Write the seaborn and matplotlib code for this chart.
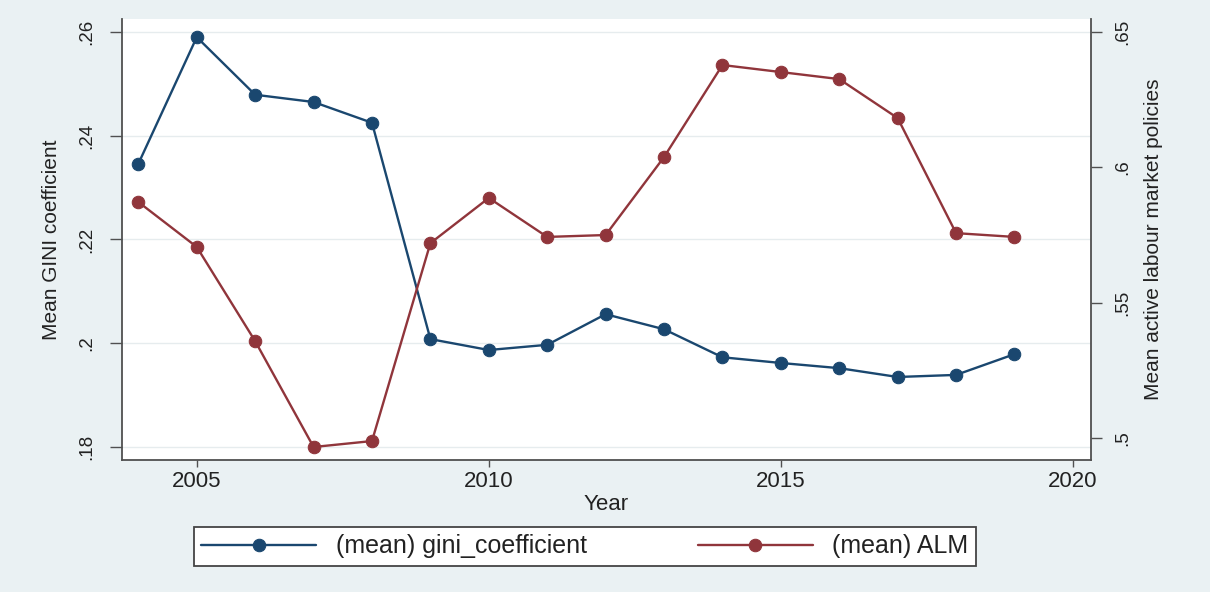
import matplotlib
matplotlib.use("Agg")
import matplotlib.pyplot as plt
import seaborn as sns
import pandas as pd

years = [2004, 2005, 2006, 2007, 2008, 2009, 2010, 2011, 2012, 2013, 2014, 2015, 2016, 2017, 2018, 2019]
gini = [0.2346, 0.2590, 0.2479, 0.2465, 0.2425, 0.2008, 0.1987, 0.1997, 0.2056, 0.2027,
        0.1973, 0.1962, 0.1952, 0.1935, 0.1939, 0.1979]
alm = [0.5872, 0.5706, 0.5358, 0.4967, 0.4989, 0.5720, 0.5887, 0.5743, 0.5750, 0.6038,
       0.6378, 0.6352, 0.6326, 0.6182, 0.5757, 0.5743]

x_ticks = [2005, 2010, 2015, 2020]
left_ticks = [0.18, 0.20, 0.22, 0.24, 0.26]
left_labels = [".18", ".2", ".22", ".24", ".26"]
right_ticks = [0.50, 0.55, 0.60, 0.65]
right_labels = [".5", ".55", ".6", ".65"]

df = pd.DataFrame({"Year": years, "gini": gini, "alm": alm})

sns.set_theme(style="white")
plt.rcParams["font.family"] = ["Liberation Sans", "DejaVu Sans"]

navy = "#1a476f"
maroon = "#90353b"
bg = "#eaf1f3"
spine_c = "#505050"
txt = "#222222"

fig = plt.figure(figsize=(12.10, 5.92), dpi=100, facecolor=bg)
ax = fig.add_axes([122/1210, 1-460/592, (1091-122)/1210, (460-19)/592])
ax.set_facecolor("white")
ax2 = ax.twinx()

sns.lineplot(data=df, x="Year", y="gini", ax=ax, color=navy, marker="o",
             markersize=9, linewidth=1.7, markeredgecolor=navy,
             label="(mean) gini_coefficient", legend=False)
sns.lineplot(data=df, x="Year", y="alm", ax=ax2, color=maroon, marker="o",
             markersize=9, linewidth=1.7, markeredgecolor=maroon,
             label="(mean) ALM", legend=False)

ax.set_xlim(2003.72, 2020.31)
ax.set_ylim(0.1775, 0.2625)
ax2.set_ylim(0.4919, 0.6548)

ax.set_xticks(x_ticks)
ax.set_xticklabels([str(t) for t in x_ticks], fontsize=16, color=txt)
ax.set_yticks(left_ticks)
ax.set_yticklabels(left_labels, rotation=90, va="center", fontsize=13.5, color=txt)
ax2.set_yticks(right_ticks)
ax2.set_yticklabels(right_labels, rotation=90, va="center", fontsize=13.5, color=txt)

ax.grid(axis="y", color="#e6ecee", linewidth=1.0)
ax.set_axisbelow(True)

for a in (ax, ax2):
    a.spines["top"].set_visible(False)
    for s in ("left", "right", "bottom"):
        a.spines[s].set_color(spine_c)
        a.spines[s].set_linewidth(1.3)
ax.spines["right"].set_visible(False)
ax2.spines["left"].set_visible(False)
ax2.spines["bottom"].set_visible(False)

ax.tick_params(axis="x", direction="out", length=5, width=1, color=spine_c, bottom=True, pad=3)
ax.tick_params(axis="y", direction="out", length=8.5, width=1, color=spine_c, left=True, pad=11)
ax2.tick_params(axis="y", direction="out", length=8, width=1, color=spine_c, right=True, pad=9)

ax.set_xlabel("Year", fontsize=16, color=txt, labelpad=1)
ax.set_ylabel("Mean GINI coefficient", fontsize=15, color=txt, labelpad=12)
ax2.set_ylabel("Mean active labour market policies", fontsize=15, color=txt,
               rotation=90, labelpad=9)

h1, l1 = ax.get_legend_handles_labels()
h2, l2 = ax2.get_legend_handles_labels()
leg = fig.legend(h1 + h2, l1 + l2, loc="center left", bbox_to_anchor=(194/1210, 1-546.5/592),
                 ncol=2, fontsize=18, frameon=True, fancybox=False, shadow=False,
                 handlelength=4.6, columnspacing=4.4, handletextpad=0.8,
                 borderpad=0.3, borderaxespad=0, framealpha=1)
leg.get_frame().set_edgecolor("#444444")
leg.get_frame().set_facecolor("white")
leg.get_frame().set_linewidth(1.3)
for t in leg.get_texts():
    t.set_color(txt)

fig.savefig("out.png", dpi=100, facecolor=bg)
